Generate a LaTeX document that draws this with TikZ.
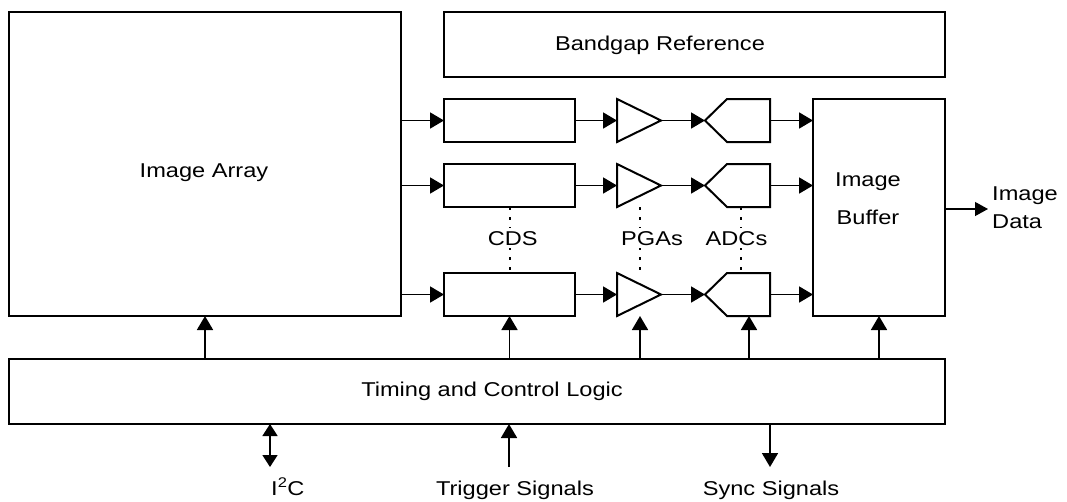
\documentclass[tikz,border=0pt]{standalone}
\usepackage{fontspec}
\setmainfont[FakeStretch=1.18]{Liberation Sans}
\usetikzlibrary{arrows.meta}

\begin{document}
\begin{tikzpicture}[x=1pt,y=-1pt,
  box/.style={draw, line width=2.2pt, inner sep=0pt, outer sep=0pt},
  shapeline/.style={line width=2pt, line join=miter},
  flow/.style={line width=1.8pt, -{Triangle[length=14pt,width=16pt]}},
  lbl/.style={font=\fontsize{20}{24}\selectfont, inner sep=0pt},
  tag/.style={lbl, fill=white, inner sep=3pt},
  guide/.style={line width=1.1pt, dash pattern=on 3pt off 7pt}]
\useasboundingbox (0,0) rectangle (1067,501);

% main blocks
\node[box, minimum width=392pt, minimum height=304pt] (arr) at (205,164) {};
\node[box, minimum width=501pt, minimum height=65pt] (bg) at (694.5,44.5) {};
\node[box, minimum width=132pt, minimum height=217pt] (buf) at (879,207.5) {};
\node[box, minimum width=936pt, minimum height=65pt] (tcl) at (477,391.5) {};

\node[lbl, anchor=base] (tarr) at (204,177.7) {Image Array};
\node[lbl, anchor=base] (tbg) at (660,50) {Bandgap Reference};
\node[lbl, anchor=base] (tbuf1) at (868,186) {Image};
\node[lbl, anchor=base] (tbuf2) at (868,224) {Buffer};
\node[lbl, anchor=base] (ttcl) at (492,396.7) {Timing and Control Logic};

% three signal chains: CDS -> PGA -> ADC -> buffer
\foreach \r/\m in {1/120.5, 2/185.5, 3/294.5} {
  \node[box, minimum width=131pt, minimum height=43pt] (cds\r) at (509.5,\m) {};
  % PGA triangle
  \draw[shapeline] (617,\m-21.5) -- (661,\m) -- (617,\m+21.5) -- cycle;
  \coordinate (pga\r-in) at (617,\m);
  \coordinate (pga\r-out) at (661,\m);
  % ADC pointed block
  \draw[shapeline] (705,\m) -- (727,\m-21.5) -- (770,\m-21.5)
                   -- (770,\m+21.5) -- (727,\m+21.5) -- cycle;
  \coordinate (adc\r-in) at (705,\m);
  \coordinate (adc\r-out) at (770,\m);

  \draw[flow] (arr.east |- cds\r.west) -- (cds\r.west);
  \draw[flow] (cds\r.east) -- (pga\r-in);
  \draw[flow] (pga\r-out) -- (adc\r-in);
  \draw[flow] (adc\r-out) -- (buf.west |- adc\r-out);
}

% dotted guides between the second and third chain
\draw[guide] (510,207) -- (510,273);
\draw[guide] (640,207) -- (640,273);
\draw[guide] (741,207) -- (741,273);
\node[tag, anchor=base] (tcds) at (512.8,245) {CDS};
\node[tag, anchor=base] (tpga) at (652,245) {PGAs};
\node[tag, anchor=base] (tadc) at (736.5,245) {ADCs};

% control lines from timing logic
\coordinate (pga3-b) at (640,316);
\coordinate (adc3-b) at (749,316);
\draw[flow] (tcl.north -| arr.south) -- (arr.south);
\draw[flow] (tcl.north -| cds3.south) -- (cds3.south);
\draw[flow] (tcl.north -| pga3-b) -- (pga3-b);
\draw[flow] (tcl.north -| adc3-b) -- (adc3-b);
\draw[flow] (tcl.north -| buf.south) -- (buf.south);

% output data
\coordinate (dout) at (988,209);
\draw[line width=1.2pt, -{Triangle[length=13pt,width=14pt]}] (buf.east |- dout) -- (dout);
\node[lbl, anchor=base west] (tout1) at (992,200) {Image};
\node[lbl, anchor=base west] (tout2) at (992,228) {Data};

% external interfaces
\coordinate (i2c) at (270,467);
\coordinate (trig) at (509,467);
\coordinate (sync) at (770,467);
\draw[line width=1.6pt, {Triangle[length=12pt,width=15pt]}-{Triangle[length=12pt,width=15pt]}] (tcl.south -| i2c) -- (i2c);
\draw[flow] (trig) -- (tcl.south -| trig);
\draw[flow] (tcl.south -| sync) -- (sync);
\node[lbl, anchor=base west] (ti2c) at (271,495) {I\textsuperscript{2}C};
\node[lbl, anchor=base] (ttrig) at (515,495) {Trigger Signals};
\node[lbl, anchor=base] (tsync) at (771,495) {Sync Signals};
\end{tikzpicture}
\end{document}
